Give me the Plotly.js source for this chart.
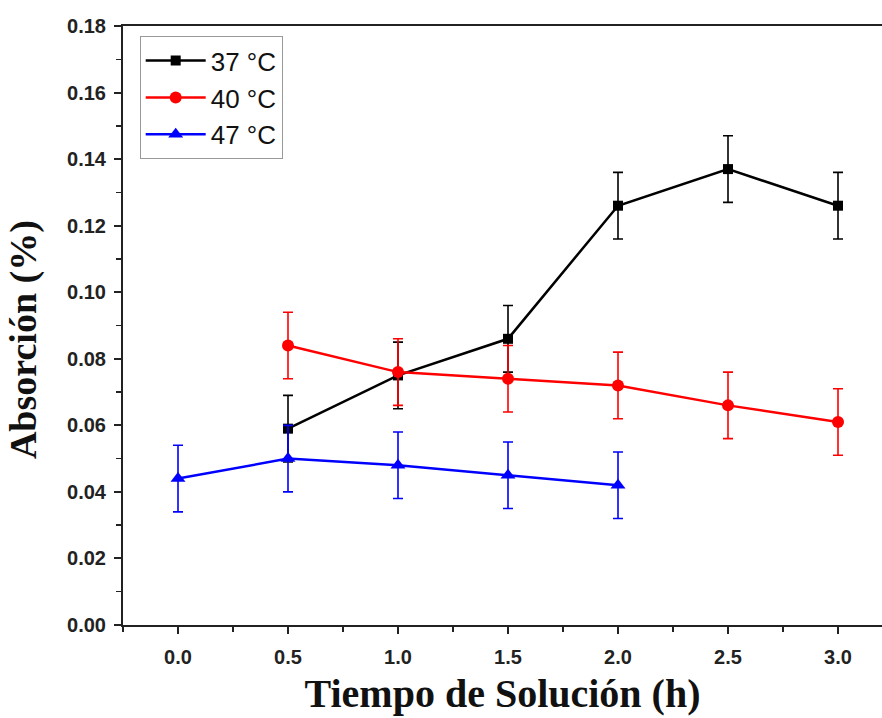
<!DOCTYPE html>
<html>
<head>
<meta charset="utf-8">
<script src="https://cdn.plot.ly/plotly-3.0.1.min.js"></script>
<style>html,body{margin:0;padding:0;background:#fff;}#chart{width:882px;height:718px;}</style>
</head>
<body>
<div id="chart"></div>
<script>
const seriesNames = ["37 °C", "40 °C", "47 °C"];
const x37 = [0.5, 1.0, 1.5, 2.0, 2.5, 3.0];
const y37 = [0.059, 0.075, 0.086, 0.126, 0.137, 0.126];
const e37 = [0.010, 0.010, 0.010, 0.010, 0.010, 0.010];
const x40 = [0.5, 1.0, 1.5, 2.0, 2.5, 3.0];
const y40 = [0.084, 0.076, 0.074, 0.072, 0.066, 0.061];
const e40 = [0.010, 0.010, 0.010, 0.010, 0.010, 0.010];
const x47 = [0.0, 0.5, 1.0, 1.5, 2.0];
const y47 = [0.044, 0.050, 0.048, 0.045, 0.042];
const e47 = [0.010, 0.010, 0.010, 0.010, 0.010];
const xTicks = [0.0, 0.5, 1.0, 1.5, 2.0, 2.5, 3.0];
const yTicks = [0.00, 0.02, 0.04, 0.06, 0.08, 0.10, 0.12, 0.14, 0.16, 0.18];
const xTitle = 'Tiempo de Solución (h)';
const yTitle = 'Absorción (%)';

function mk(name, x, y, e, color, symbol, size) {
  return {
    type: 'scatter', mode: 'lines+markers', name: name, x: x, y: y,
    line: {color: color, width: 2.5},
    marker: {color: color, symbol: symbol, size: size},
    error_y: {type: 'data', array: e, visible: true, color: color, thickness: 1.6, width: 5}
  };
}
const data = [
  mk(seriesNames[0], x37, y37, e37, '#000000', 'square', 10),
  mk(seriesNames[1], x40, y40, e40, '#ff0000', 'circle', 12),
  mk(seriesNames[2], x47, y47, e47, '#0000ff', 'triangle-up', 13)
];
const tickFont = {family: 'Liberation Sans, Arial, sans-serif', size: 20, color: '#222', weight: 'bold'};
const titleFont = {family: 'Liberation Serif, Times New Roman, serif', color: '#111', weight: 'bold'};
const layout = {
  width: 882, height: 718,
  margin: {l: 123, r: 0, t: 26, b: 93},
  paper_bgcolor: '#fff', plot_bgcolor: '#fff',
  showlegend: true,
  legend: {
    x: 0.022, y: 0.983, xanchor: 'left', yanchor: 'top',
    bordercolor: '#999', borderwidth: 1, bgcolor: 'rgba(255,255,255,0)',
    font: {family: 'Liberation Sans, Arial, sans-serif', size: 26, color: '#111'},
    itemwidth: 60, tracegroupgap: 0
  },
  xaxis: {
    range: [-0.25, 3.2], tickvals: xTicks, ticktext: xTicks.map(v => v.toFixed(1)),
    showgrid: false, zeroline: false, showline: true, mirror: true,
    linecolor: '#222', linewidth: 2,
    ticks: 'outside', ticklen: 7, tickwidth: 2, tickcolor: '#222',
    ticklabelstandoff: 6,
    minor: {dtick: 0.25, tick0: -0.25, ticks: 'outside', ticklen: 5, tickwidth: 1.5, tickcolor: '#222', showgrid: false},
    tickfont: tickFont,
    title: {text: xTitle, standoff: 12, font: Object.assign({size: 40}, titleFont)}
  },
  yaxis: {
    range: [0, 0.18], tickvals: yTicks, ticktext: yTicks.map(v => v.toFixed(2)),
    showgrid: false, zeroline: false, showline: true, mirror: false,
    linecolor: '#222', linewidth: 2,
    ticks: 'outside', ticklen: 7, tickwidth: 2, tickcolor: '#222',
    ticklabelstandoff: 4,
    minor: {dtick: 0.01, tick0: 0, ticks: 'outside', ticklen: 5, tickwidth: 1.5, tickcolor: '#222', showgrid: false},
    tickfont: tickFont
  },
  annotations: [{
    text: yTitle, textangle: -90, showarrow: false,
    xref: 'paper', yref: 'paper', x: -0.132, y: 0.477, xanchor: 'center', yanchor: 'middle',
    font: Object.assign({size: 38}, titleFont)
  }]
};
Plotly.newPlot('chart', data, layout, {displayModeBar: false, staticPlot: true});
</script>
</body>
</html>
